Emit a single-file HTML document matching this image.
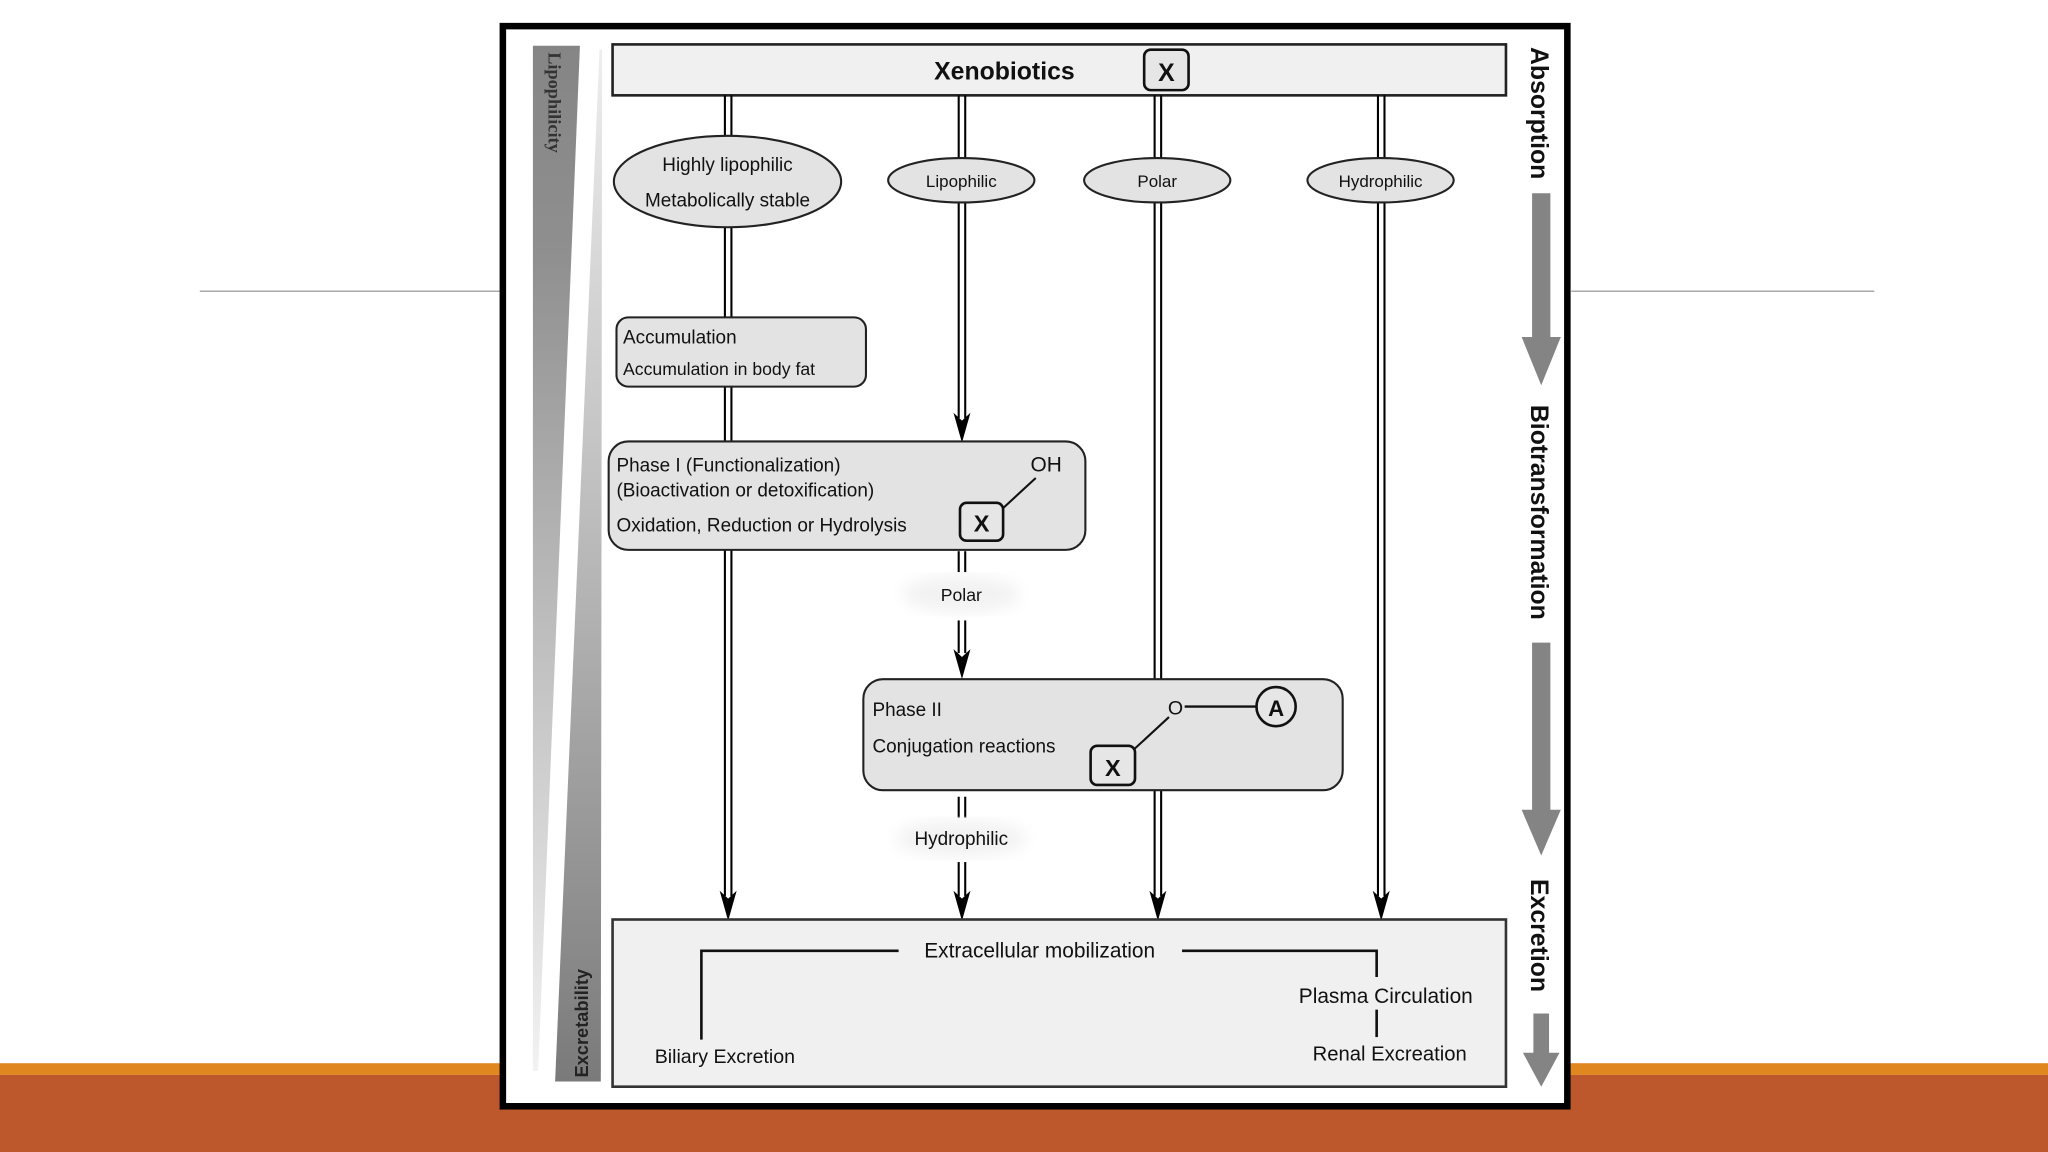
<!DOCTYPE html>
<html><head><meta charset="utf-8"><style>
html,body{margin:0;padding:0;background:#fff;}
svg{display:block;}
text{font-family:"Liberation Sans",Arial,sans-serif;fill:#111;}
</style></head><body>
<svg width="2048" height="1152" viewBox="0 0 1568 882" xmlns="http://www.w3.org/2000/svg">
<defs>
<linearGradient id="lw" x1="0" y1="0" x2="0" y2="1">
<stop offset="0" stop-color="#858585"/><stop offset="0.2" stop-color="#8f8f8f"/><stop offset="0.5" stop-color="#b5b5b5"/><stop offset="1" stop-color="#f2f2f2"/></linearGradient>
<linearGradient id="rw" x1="0" y1="0" x2="0" y2="1">
<stop offset="0" stop-color="#eeeeee"/><stop offset="0.45" stop-color="#bdbdbd"/><stop offset="0.75" stop-color="#999"/><stop offset="1" stop-color="#7a7a7a"/></linearGradient>
<marker id="ah" viewBox="0 0 10 20" refX="5" refY="20" markerWidth="10" markerHeight="20" markerUnits="userSpaceOnUse" orient="auto-start-reverse"><path d="M0,0 L5,20 L10,0 L5,5 Z" fill="#000"/></marker>
<filter id="glow"><feGaussianBlur stdDeviation="6"/></filter>
</defs>
<rect width="1568" height="882" fill="#fff"/>
<line x1="153" y1="223" x2="383" y2="223" stroke="#a8a8a8" stroke-width="1.2"/>
<line x1="1203" y1="223" x2="1435" y2="223" stroke="#a8a8a8" stroke-width="1.2"/>
<rect x="0" y="814" width="1568" height="9" fill="#e0871f"/>
<rect x="0" y="823" width="1568" height="59" fill="#bd582c"/>
<rect x="385" y="20" width="815" height="827" fill="#fff" stroke="#000" stroke-width="5"/>

<!-- left wedges -->
<polygon points="408,35 444,35 412,820 408,820" fill="url(#lw)"/>
<polygon points="459,38 461,38 460,828 425,828" fill="url(#rw)"/>
<text transform="translate(420,40) rotate(90)" font-family="Liberation Serif" font-size="14" font-weight="bold" fill="#333" style="font-family:'Liberation Serif',serif;fill:#333">Lipophilicity</text>
<text transform="translate(450,825) rotate(-90)" font-size="14" font-weight="bold" style="fill:#222">Excretability</text>

<!-- Xenobiotics -->
<rect x="469" y="34" width="684" height="39" fill="#f0f0f0" stroke="#222" stroke-width="2"/>
<text x="769" y="61" font-size="19" font-weight="bold" text-anchor="middle">Xenobiotics</text>
<rect x="876" y="38" width="34" height="31" rx="5" fill="#e6e6e6" stroke="#111" stroke-width="2"/>
<text x="893" y="62" font-size="19" font-weight="bold" text-anchor="middle">X</text>

<!-- vertical double lines -->
<g stroke="#000" stroke-width="1.6" fill="none">
<line x1="555" y1="73" x2="555" y2="686"/><line x1="560" y1="73" x2="560" y2="686"/>
<line x1="734" y1="73" x2="734" y2="320"/><line x1="739" y1="73" x2="739" y2="320"/>
<line x1="734" y1="422" x2="734" y2="438"/><line x1="739" y1="422" x2="739" y2="438"/>
<line x1="734" y1="475" x2="734" y2="500"/><line x1="739" y1="475" x2="739" y2="500"/>
<line x1="734" y1="610" x2="734" y2="626"/><line x1="739" y1="610" x2="739" y2="626"/>
<line x1="734" y1="660" x2="734" y2="686"/><line x1="739" y1="660" x2="739" y2="686"/>
<line x1="884" y1="73" x2="884" y2="686"/><line x1="889" y1="73" x2="889" y2="686"/>
<line x1="1055" y1="73" x2="1055" y2="686"/><line x1="1060" y1="73" x2="1060" y2="686"/>
</g>
<g fill="#000">
<path d="M551,682 L557.5,705 L564,682 L557.5,688 Z"/>
<path d="M730,682 L736.5,705 L743,682 L736.5,688 Z"/>
<path d="M880,682 L886.5,705 L893,682 L886.5,688 Z"/>
<path d="M1051,682 L1057.5,705 L1064,682 L1057.5,688 Z"/>
<path d="M730,316 L736.5,339 L743,316 L736.5,322 Z"/>
<path d="M730,497 L736.5,520 L743,497 L736.5,503 Z"/>
</g>

<!-- ellipses -->
<g fill="#e3e3e3" stroke="#222" stroke-width="1.6">
<ellipse cx="557" cy="139" rx="87" ry="35"/>
<ellipse cx="736" cy="138" rx="56" ry="17"/>
<ellipse cx="886" cy="138" rx="56" ry="17"/>
<ellipse cx="1057" cy="138" rx="56" ry="17"/>
</g>
<text x="557" y="131" font-size="14.5" text-anchor="middle">Highly lipophilic</text>
<text x="557" y="158" font-size="14.5" text-anchor="middle">Metabolically stable</text>
<text x="736" y="143" font-size="13" text-anchor="middle">Lipophilic</text>
<text x="886" y="143" font-size="13" text-anchor="middle">Polar</text>
<text x="1057" y="143" font-size="13" text-anchor="middle">Hydrophilic</text>

<!-- Accumulation -->
<rect x="472" y="243" width="191" height="53" rx="9" fill="#e3e3e3" stroke="#222" stroke-width="1.6"/>
<text x="477" y="263" font-size="14.5">Accumulation</text>
<text x="477" y="287" font-size="13.5">Accumulation in body fat</text>

<!-- Phase I -->
<rect x="466" y="338" width="365" height="83" rx="15" fill="#e3e3e3" stroke="#222" stroke-width="1.6"/>
<text x="472" y="361" font-size="14.5">Phase I (Functionalization)</text>
<text x="472" y="380" font-size="14.5">(Bioactivation or detoxification)</text>
<text x="472" y="407" font-size="14.5">Oxidation, Reduction or Hydrolysis</text>
<text x="789" y="361" font-size="16">OH</text>
<line x1="793" y1="366" x2="768" y2="389" stroke="#111" stroke-width="1.6"/>
<rect x="735" y="385" width="33" height="29" rx="5" fill="#e6e6e6" stroke="#111" stroke-width="2"/>
<text x="751.5" y="407" font-size="18" font-weight="bold" text-anchor="middle">X</text>

<!-- Polar / Hydrophilic labels -->
<ellipse cx="736" cy="455" rx="45" ry="14" fill="#f2f2f2" filter="url(#glow)"/>
<text x="736" y="460" font-size="13.5" text-anchor="middle">Polar</text>
<ellipse cx="736" cy="642" rx="50" ry="14" fill="#f2f2f2" filter="url(#glow)"/>
<text x="736" y="647" font-size="14.5" text-anchor="middle">Hydrophilic</text>

<!-- Phase II -->
<rect x="661" y="520" width="367" height="85" rx="15" fill="#e3e3e3" stroke="#222" stroke-width="1.6"/>
<text x="668" y="548" font-size="14.5">Phase II</text>
<text x="668" y="576" font-size="14.5">Conjugation reactions</text>
<text x="900" y="547" font-size="15" text-anchor="middle">O</text>
<line x1="907" y1="541" x2="962" y2="541" stroke="#111" stroke-width="1.8"/>
<line x1="895" y1="549" x2="869" y2="573" stroke="#111" stroke-width="1.6"/>
<circle cx="977" cy="541" r="15" fill="#e6e6e6" stroke="#111" stroke-width="2"/>
<text x="977" y="548" font-size="17" font-weight="bold" text-anchor="middle">A</text>
<rect x="835" y="571" width="34" height="30" rx="5" fill="#e6e6e6" stroke="#111" stroke-width="2"/>
<text x="852" y="594" font-size="18" font-weight="bold" text-anchor="middle">X</text>

<!-- bottom box -->
<rect x="469" y="704" width="684" height="128" fill="#f0f0f0" stroke="#333" stroke-width="2"/>
<g stroke="#111" stroke-width="2" fill="none">
<polyline points="537,796 537,728 688,728"/>
<polyline points="905,728 1054,728 1054,748"/>
<line x1="1054" y1="773" x2="1054" y2="794"/>
</g>
<text x="796" y="733" font-size="16" text-anchor="middle">Extracellular mobilization</text>
<text x="1061" y="768" font-size="16" text-anchor="middle">Plasma Circulation</text>
<text x="1064" y="812" font-size="15.5" text-anchor="middle">Renal Excreation</text>
<text x="555" y="814" font-size="15" text-anchor="middle">Biliary Excretion</text>

<!-- right side labels and arrows -->
<text transform="translate(1172,36) rotate(90)" font-size="19" font-weight="bold">Absorption</text>
<text transform="translate(1172,310) rotate(90)" font-size="19" font-weight="bold">Biotransformation</text>
<text transform="translate(1172,673) rotate(90)" font-size="19" font-weight="bold">Excretion</text>
<g fill="#848484">
<polygon points="1173,148 1187,148 1187,258 1195,258 1180,295 1165,258 1173,258"/>
<polygon points="1173,492 1187,492 1187,620 1195,620 1180,655 1165,620 1173,620"/>
<polygon points="1174,776 1186,776 1186,806 1194,806 1180,832 1166,806 1174,806"/>
</g>
</svg>
</body></html>
